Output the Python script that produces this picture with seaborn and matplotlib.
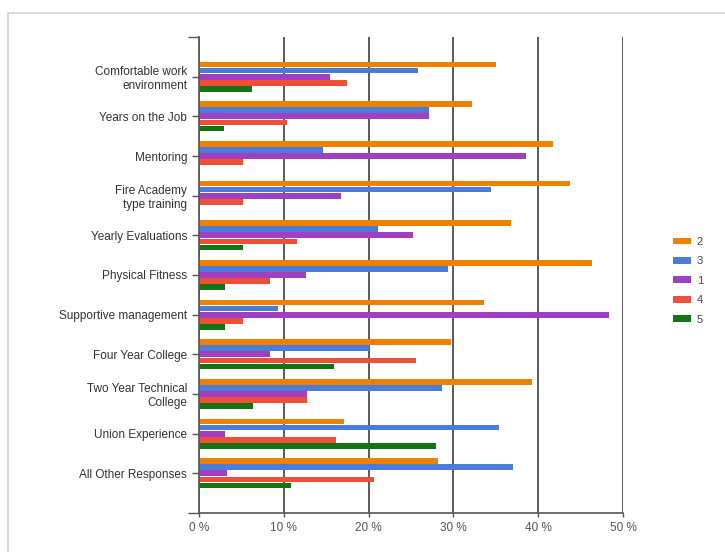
import numpy as np
import pandas as pd
import seaborn as sns
import matplotlib.pyplot as plt
from matplotlib.patches import Rectangle

#------------------------------------------------------------------------------#
# Survey responses: share of answers (%) per factor, for each rank (2,3,1,4,5)
#------------------------------------------------------------------------------#

categories = ['Comfortable work\nenvironment', 'Years on the Job', 'Mentoring',
              'Fire Academy\ntype training', 'Yearly Evaluations',
              'Physical Fitness', 'Supportive management', 'Four Year College',
              'Two Year Technical\nCollege', 'Union Experience',
              'All Other Responses']

series_names = ['2', '3', '1', '4', '5']

vals_2 = [35.0, 32.2, 41.7, 43.8, 36.8, 46.3, 33.6, 29.7, 39.3, 17.1, 28.2]
vals_3 = [25.8, 27.1, 14.6, 34.4, 21.1, 29.4,  9.3, 20.1, 28.7, 35.4, 37.0]
vals_1 = [15.4, 27.1, 38.6, 16.7, 25.2, 12.6, 48.3,  8.4, 12.7,  3.1,  3.3]
vals_4 = [17.5, 10.4,  5.2,  5.2, 11.5,  8.4,  5.2, 25.6, 12.7, 16.1, 20.6]
vals_5 = [ 6.2,  3.0,  0.0,  0.0,  5.2,  3.1,  3.1, 15.9,  6.4, 27.9, 10.8]

colors = ['#EF8000', '#4A7DDB', '#A040C0', '#EE4F36', '#127512']

#------------------------------------------------------------------------------#

def main():

    # long form table for seaborn
    all_vals = [vals_2, vals_3, vals_1, vals_4, vals_5]
    rows = []
    for name, vals in zip(series_names, all_vals):
        for cat, v in zip(categories, vals):
            rows.append({'category': cat, 'series': name, 'value': v})
    DF = pd.DataFrame(rows)

    sns.set_style('white')
    plt.rcParams['font.family'] = ['Liberation Sans', 'DejaVu Sans']

    fig = plt.figure(figsize=(7.25, 5.52), dpi=100)
    ax = fig.add_axes([199/725, 39/552, 424/725, 476/552])

    sns.barplot(data=DF, x='value', y='category', hue='series',
                hue_order=series_names, order=categories,
                palette=colors, saturation=1, width=0.76, gap=0.06,
                orient='h', edgecolor='none', ax=ax)

    ax.set_xlim(0, 50)
    ax.set_ylim(len(categories), -1)
    ax.set_xticks(np.arange(0, 51, 10))
    ax.set_xticklabels(['%d %%' % t for t in range(0, 51, 10)],
                       fontsize=8.5, color='#555555')
    ax.tick_params(axis='y', length=5, width=1, color='#555555', left=True)
    ax.tick_params(axis='x', length=3, width=1, color='#555555', bottom=True)
    ax.set_yticks([-1, len(categories)], minor=True)
    ax.tick_params(axis='y', which='minor', length=8, width=1,
                   color='#555555', left=True)
    ax.set_yticks(range(len(categories)))
    ax.set_yticklabels(categories, fontsize=8.5, color='#333333',
                       multialignment='right')
    ax.set_xlabel('')
    ax.set_ylabel('')

    # vertical gridlines
    ax.grid(axis='x', color='#5a5a5a', linewidth=1.4)
    ax.set_axisbelow(True)
    for s in ['top', 'right']:
        ax.spines[s].set_visible(False)
    for s in ['left', 'bottom']:
        ax.spines[s].set_color('#555555')
        ax.spines[s].set_linewidth(1.2)

    # legend on the right
    handles, labels = ax.get_legend_handles_labels()
    ax.legend(handles, labels, loc='center left', bbox_to_anchor=(1.095, 0.488),
              frameon=False, fontsize=8, handlelength=1.6, handleheight=0.55,
              labelspacing=0.85, handletextpad=0.5, labelcolor='#444444')

    # light frame around the chart
    fig.patches.append(Rectangle((8/725, -0.05), 1.1, 1.05 - 13/552,
                                 transform=fig.transFigure, fill=False,
                                 edgecolor='#d3d3d3', linewidth=1.2))

    fig.savefig('out.png', dpi=100)

if __name__ == '__main__':
    main()
